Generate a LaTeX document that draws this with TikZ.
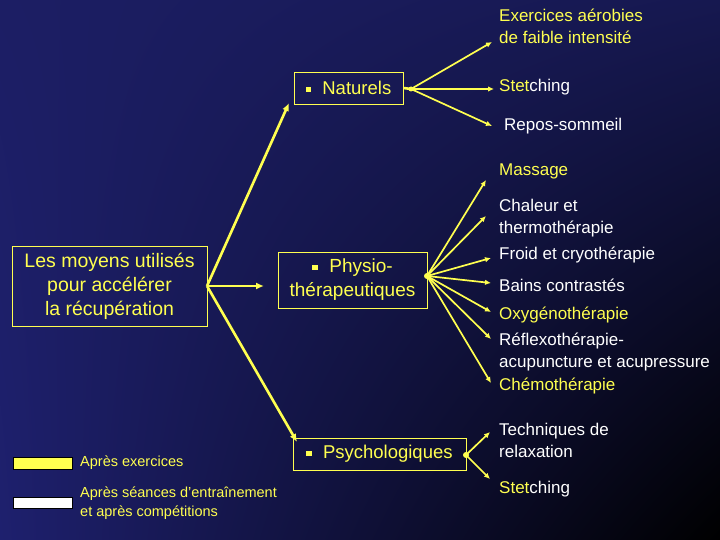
\documentclass[tikz,border=0pt]{standalone}
\usepackage{fontspec}
\setmainfont{Liberation Sans}
\usetikzlibrary{arrows.meta,shadings}
\definecolor{ylw}{RGB}{255,255,80}
\definecolor{nvA}{RGB}{28,30,100}
\definecolor{nvB}{RGB}{22,24,80}
\definecolor{nvC}{RGB}{30,32,110}
\begin{document}
\begin{tikzpicture}[x=1pt,y=-1pt,
  box/.style={draw=ylw,line width=0.8pt,text=ylw,font=\fontsize{18.5}{22}\selectfont,align=center,inner sep=3pt},
  arr/.style={draw=ylw,line width=2.6pt,-{Latex[length=8pt,width=7pt]}},
  thin/.style={draw=ylw,line width=1.7pt,-{Latex[length=6pt,width=5.5pt]}},
  lbl/.style={anchor=west,font=\fontsize{17}{22}\selectfont,align=left,inner sep=0pt},
  leg/.style={anchor=west,font=\fontsize{14.5}{19}\selectfont,align=left,text=ylw,inner sep=0pt}]
\shade[upper left=nvA,lower left=nvC,upper right=nvB,lower right=black] (0,0) rectangle (720,540);
\useasboundingbox (0,0) rectangle (720,540);
\newcommand{\bul}{\raisebox{0.25ex}{\rule{0.3em}{0.3em}}\hspace{0.6em}}
\node[box,minimum width=195pt,minimum height=80pt,font=\fontsize{19.5}{24}\selectfont] (main) at (109.5,286) {Les moyens utilisés\\pour accélérer\\la récupération};
\node[box,minimum width=109pt,minimum height=32pt] (nat) at (348.5,88) {\bul Naturels};
\node[box,minimum width=149pt,minimum height=56pt,font=\fontsize{19}{24}\selectfont] (phy) at (352.5,280) {\bul Physio-\\thérapeutiques};
\node[box,minimum width=173pt,minimum height=32pt] (psy) at (379.5,454) {\bul Psychologiques};
\coordinate (m) at (207,286);
\coordinate (n) at (411,89);
\coordinate (p) at (427,276);
\coordinate (q) at (466,455);
\draw[arr] (m) -- (289,103);
\draw[arr] (m) -- (264,286);
\draw[arr] (m) -- (297,442);
\draw[ylw,line width=2.6pt] (main.east) -- (m);
\node[lbl,text=ylw] (t1) at (499,26) {Exercices aérobies\\de faible intensité};
\node[lbl,text=white] (t2) at (499,87) {\textcolor{ylw}{Stet}ching};
\node[lbl,text=white] (t3) at (504,126) {Repos-sommeil};
\node[lbl,text=ylw] (t4) at (499,171) {Massage};
\node[lbl,text=white] (t5) at (499,218) {Chaleur et\\thermothérapie};
\node[lbl,text=white] (t6) at (499,255) {Froid et cryothérapie};
\node[lbl,text=white] (t7) at (499,285) {Bains contrastés};
\node[lbl,text=ylw] (t8) at (499,315) {Oxygénothérapie};
\node[lbl,text=white] (t9) at (499,352) {Réflexothérapie-\\acupuncture et acupressure};
\node[lbl,text=ylw] (t10) at (499,386) {Chémothérapie};
\node[lbl,text=white] (t11) at (499,440) {Techniques de\\relaxation};
\node[lbl,text=white] (t12) at (499,489) {\textcolor{ylw}{Stet}ching};
\draw[ylw,line width=2.6pt] (nat.east) -- (n);
\draw[thin] (n) -- (492,42);
\draw[thin] (n) -- (494,89);
\draw[thin] (n) -- (492,126);
\draw[thin] (p) -- (486,180);
\draw[thin] (p) -- (486,216);
\draw[thin] (p) -- (491,258);
\draw[thin] (p) -- (491,283);
\draw[thin] (p) -- (491,312);
\draw[thin] (p) -- (491,339);
\draw[thin] (p) -- (491,383);
\draw[thin] (q) -- (490,432);
\draw[thin] (q) -- (490,479);
\fill[ylw] (p) circle (3pt);
\fill[ylw] (q) circle (3pt);
\fill[ylw] (n) circle (2.5pt);
\node[draw=black,fill=ylw,minimum width=59pt,minimum height=12pt,inner sep=0pt] (ly) at (42.5,463) {};
\node[draw=black,fill=white,minimum width=59pt,minimum height=11pt,inner sep=0pt] (lw) at (42.5,503) {};
\node[leg] (lyt) at (80,463) {Après exercices};
\node[leg] (lwt) at (80,503) {Après séances d'entraînement\\et après compétitions};
\end{tikzpicture}
\end{document}
